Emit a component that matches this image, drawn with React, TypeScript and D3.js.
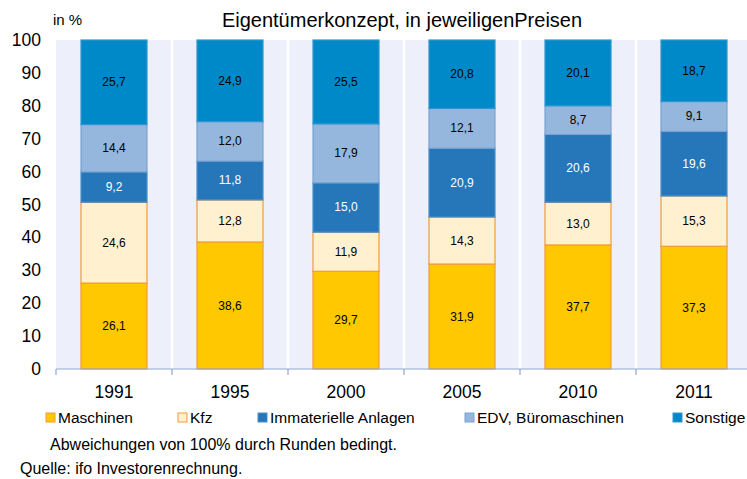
import { useEffect, useRef } from 'react';
import * as d3 from 'd3';

const years = ['1991', '1995', '2000', '2005', '2010', '2011'];
const series = ['Maschinen', 'Kfz', 'Immaterielle Anlagen', 'EDV, Büromaschinen', 'Sonstige'];
const maschinen = [26.1, 38.6, 29.7, 31.9, 37.7, 37.3];
const kfz = [24.6, 12.8, 11.9, 14.3, 13.0, 15.3];
const immaterielle = [9.2, 11.8, 15.0, 20.9, 20.6, 19.6];
const edv = [14.4, 12.0, 17.9, 12.1, 8.7, 9.1];
const sonstige = [25.7, 24.9, 25.5, 20.8, 20.1, 18.7];
const yTicks = [0, 10, 20, 30, 40, 50, 60, 70, 80, 90, 100];

const fills = ['#FFC800', '#FFF0CF', '#2577B9', '#95B7DD', '#0089C9'];
const strokes = ['#F29B3A', '#F29B3A', '#4A8FC8', '#7AA3D2', '#2F96CF'];
const labelColors = ['#000', '#000', '#fff', '#000', '#000'];

const App = () => {
  const svgRef = useRef<SVGSVGElement>(null);
  const width = 747;
  const height = 479;

  useEffect(() => {
    if (!svgRef.current) return;
    const svg = d3.select(svgRef.current);
    svg.selectAll('*').remove();
    const font = 'Liberation Sans, Arial, sans-serif';

    const left = 56, right = 752, top = 40, bottom = 369;
    const x = d3.scaleBand().domain(years).range([left, right]).paddingInner(0).paddingOuter(0);
    const y = d3.scaleLinear().domain([0, 100]).range([bottom, top]);

    // plot background
    svg.append('rect').attr('x', left).attr('y', top)
      .attr('width', right - left).attr('height', bottom - top).attr('fill', '#EDF0FA');
    years.forEach((yr, i) => {
      if (i === 0) return;
      svg.append('line').attr('x1', x(yr)!).attr('x2', x(yr)!)
        .attr('y1', top).attr('y2', bottom).attr('stroke', '#fff').attr('stroke-width', 2.5);
    });

    const values = [maschinen, kfz, immaterielle, edv, sonstige];
    const rows = years.map((yr, i) => {
      const r: any = { year: yr };
      series.forEach((s, k) => { r[s] = values[k][i]; });
      return r;
    });
    const stacked = d3.stack<any>().keys(series)(rows);
    const barW = 66;

    stacked.forEach((layer, k) => {
      const g = svg.append('g');
      layer.forEach((d) => {
        const yr = d.data.year as string;
        const y0 = y(Math.min(d[1], 100));
        const y1 = y(d[0]);
        const cx = x(yr)! + x.bandwidth() / 2;
        g.append('rect').attr('x', cx - barW / 2).attr('y', y0)
          .attr('width', barW).attr('height', y1 - y0)
          .attr('fill', fills[k]).attr('stroke', strokes[k]).attr('stroke-width', 1.2);
        g.append('text').attr('x', cx).attr('y', (y0 + y1) / 2 + 4)
          .attr('text-anchor', 'middle').attr('font-family', font).attr('font-size', 12)
          .attr('fill', labelColors[k])
          .text(d3.format('.1f')(d[1] - d[0]).replace('.', ','));
      });
    });

    // x axis
    const ax = svg.append('g');
    ax.append('line').attr('x1', left).attr('x2', right).attr('y1', bottom).attr('y2', bottom)
      .attr('stroke', '#8FA8CF').attr('stroke-width', 1.2);
    [...years.map((yr) => x(yr)!), right].forEach((px) => {
      ax.append('line').attr('x1', px).attr('x2', px).attr('y1', bottom).attr('y2', bottom + 6)
        .attr('stroke', '#8FA8CF').attr('stroke-width', 1.2);
    });
    years.forEach((yr) => {
      ax.append('text').attr('x', x(yr)! + x.bandwidth() / 2).attr('y', 398)
        .attr('text-anchor', 'middle').attr('font-family', font).attr('font-size', 17.5)
        .attr('fill', '#000').text(yr);
    });

    // y axis labels
    yTicks.forEach((t) => {
      svg.append('text').attr('x', 41).attr('y', y(t) + 6)
        .attr('text-anchor', 'end').attr('font-family', font).attr('font-size', 17.5)
        .attr('fill', '#000').text(t);
    });

    svg.append('text').attr('x', 53).attr('y', 25).attr('font-family', font)
      .attr('font-size', 15).text('in %');
    svg.append('text').attr('x', 402).attr('y', 27).attr('text-anchor', 'middle')
      .attr('font-family', font).attr('font-size', 20).text('Eigentümerkonzept, in jeweiligenPreisen');

    // legend
    const legendX = [46, 178, 258, 465, 673];
    series.forEach((s, k) => {
      svg.append('rect').attr('x', legendX[k]).attr('y', 413).attr('width', 9).attr('height', 9)
        .attr('fill', fills[k]).attr('stroke', strokes[k]).attr('stroke-width', 1);
      svg.append('text').attr('x', legendX[k] + 12).attr('y', 423).attr('font-family', font)
        .attr('font-size', 15.5).text(s);
    });

    svg.append('text').attr('x', 50).attr('y', 450).attr('font-family', font)
      .attr('font-size', 16).text('Abweichungen von 100% durch Runden bedingt.');
    svg.append('text').attr('x', 20).attr('y', 474).attr('font-family', font)
      .attr('font-size', 16).text('Quelle: ifo Investorenrechnung.');
  }, []);

  return (
    <svg ref={svgRef} width={width} height={height}
      style={{ position: 'absolute', left: 0, top: 0, background: '#fff' }} />
  );
};

export default App;
